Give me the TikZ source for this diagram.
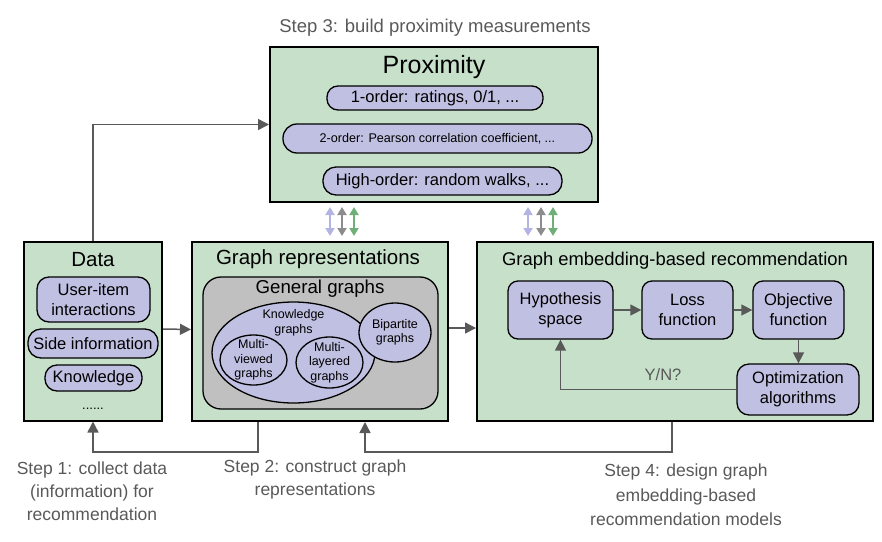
\documentclass[tikz,border=0pt]{standalone}
\usepackage{fontspec}
\setmainfont{Liberation Sans}
\usetikzlibrary{positioning,arrows.meta,shapes.geometric,calc}
\definecolor{boxgreen}{RGB}{198,224,202}
\definecolor{pill}{RGB}{192,192,226}
\definecolor{genfill}{RGB}{192,192,192}
\definecolor{arrgray}{RGB}{89,89,89}
\definecolor{lav}{RGB}{180,180,228}
\definecolor{midgray}{RGB}{140,140,140}
\definecolor{grn}{RGB}{112,176,120}
\newcommand{\fsz}[2]{\fontsize{#1}{#2}\selectfont}
\begin{document}
\begin{tikzpicture}[x=1pt,y=-1pt,
  outer/.style={draw,line width=2pt,fill=boxgreen,inner sep=0pt},
  pillbox/.style={draw,line width=1.3pt,fill=pill,rounded corners=11pt,align=center,inner sep=0pt,font=\fsz{16.5}{20}},
  blob/.style={draw,ellipse,line width=1.3pt,fill=pill,inner sep=0pt,label={[align=center,font=\fsz{12.5}{14.5}]center:#1}},
  arr/.style={-{Triangle[length=11pt,width=11pt]},line width=1.5pt,draw=arrgray},
  dbl/.style={{Triangle[length=8pt,width=9pt]}-{Triangle[length=8pt,width=9pt]},line width=2.5pt,shorten <=4pt,shorten >=5pt},
  steptext/.style={align=center,text=arrgray,font=\fsz{17.5}{23}}]
  \useasboundingbox (0,0) rectangle (882,541);
  % outer boxes
  \node[outer,minimum width=328pt,minimum height=155pt](prox) at (434,124.5){};
  \node[outer,minimum width=138pt,minimum height=179pt](data) at (93,331){};
  \node[outer,minimum width=256pt,minimum height=179pt](graph) at (320,331.5){};
  \node[outer,minimum width=396pt,minimum height=179pt](ge) at (675,331.5){};
  % proximity
  \node[font=\fsz{25}{30}](proxt) at (434,67){Proximity};
  \node[pillbox,minimum width=216pt,minimum height=24pt](o1) at (435,98){1-order: ratings, 0/1, ...};
  \node[pillbox,rounded corners=14pt,minimum width=309pt,minimum height=29pt,font=\fsz{12.6}{15}](o2) at (437.5,138.5){2-order: Pearson correlation coefficient, ...};
  \node[pillbox,rounded corners=13pt,minimum width=239pt,minimum height=28pt](oh) at (442.5,181){High-order: random walks, ...};
  \node[text=arrgray,font=\fsz{18.5}{22}](s3) at (435,28){Step 3: build proximity measurements};
  % data
  \node[font=\fsz{20.5}{24}](datat) at (93,260){Data};
  \node[pillbox,rounded corners=12pt,minimum width=113pt,minimum height=45pt](ui) at (93.5,299.5){User-item\\interactions};
  \node[pillbox,rounded corners=13pt,minimum width=130pt,minimum height=29pt](side) at (93,343.5){Side information};
  \node[pillbox,rounded corners=12pt,minimum width=97pt,minimum height=26pt](know) at (93.5,378){Knowledge};
  \node[font=\fsz{13}{15}](dots) at (93,409){......};
  % graph representations
  \node[font=\fsz{20.5}{24}](grapht) at (318,259){Graph representations};
  \node[draw,line width=1.3pt,fill=genfill,rounded corners=18pt,minimum width=235pt,minimum height=132pt](gen) at (320.5,343){};
  \node[font=\fsz{18.7}{22}](gent) at (320,289){General graphs};
  \node[blob={},minimum width=163pt,minimum height=101pt](kg) at (293.5,352.5){};
  \node[align=center,font=\fsz{12.5}{15}](kgt) at (293.5,322.5){Knowledge\\graphs};
  \node[blob={Multi-\\viewed\\graphs},minimum width=67pt,minimum height=50pt](mv) at (253.5,360){};
  \node[blob={Multi-\\layered\\graphs},minimum width=67pt,minimum height=51pt](ml) at (329.5,362.5){};
  \node[blob={Bipartite\\graphs},minimum width=72pt,minimum height=59pt](bp) at (395,332.5){};
  % graph embedding
  \node[font=\fsz{18.4}{22}](get) at (675,261){Graph embedding-based recommendation};
  \node[pillbox,rounded corners=10pt,minimum width=105pt,minimum height=58pt](hyp) at (560.5,310){Hypothesis\\space};
  \node[pillbox,rounded corners=10pt,minimum width=91pt,minimum height=58pt](loss) at (687.5,310){Loss\\function};
  \node[pillbox,rounded corners=10pt,minimum width=91pt,minimum height=58pt](obj) at (798.5,310){Objective\\function};
  \node[pillbox,rounded corners=12pt,minimum width=122pt,minimum height=51pt](opt) at (798,389.5){Optimization\\algorithms};
  \draw[arr](hyp)--(loss);\draw[arr](loss)--(obj);
  \draw[arr](obj.south)--(obj.south |- opt.north);
  \draw[arr](opt.west)-|(hyp.south);
  \node[text=arrgray,font=\fsz{16.5}{20}](yn) at (663,375){Y/N?};
  % connectors between boxes
  \draw[arr](data.north)|-(prox.west);
  \draw[arr]([yshift=2pt]data.east)--([yshift=2pt]graph.west);
  \draw[arr]([yshift=3.5pt]graph.east)--([yshift=3.5pt]ge.west);
  \foreach \d/\c in {-104/lav,-92/midgray,-80/grn,94/lav,107/midgray,119/grn}
    \draw[dbl,draw=\c]([xshift=\d pt]prox.south)--([xshift=\d pt]prox.south |- graph.north);
  \draw[arr]([xshift=-62pt]graph.south)--++(0,30)-|(data.south);
  \draw[arr]([xshift=-3pt]ge.south)--++(0,30)-|([xshift=45pt]graph.south);
  % step labels
  \node[steptext](s1) at (92,491){Step 1: collect data\\(information) for\\recommendation};
  \node[steptext](s2) at (315,479.5){Step 2: construct graph\\representations};
  \node[steptext,font=\fsz{17.5}{24.5}](s4) at (686,495){Step 4: design graph\\embedding-based\\recommendation models};
\end{tikzpicture}
\end{document}
